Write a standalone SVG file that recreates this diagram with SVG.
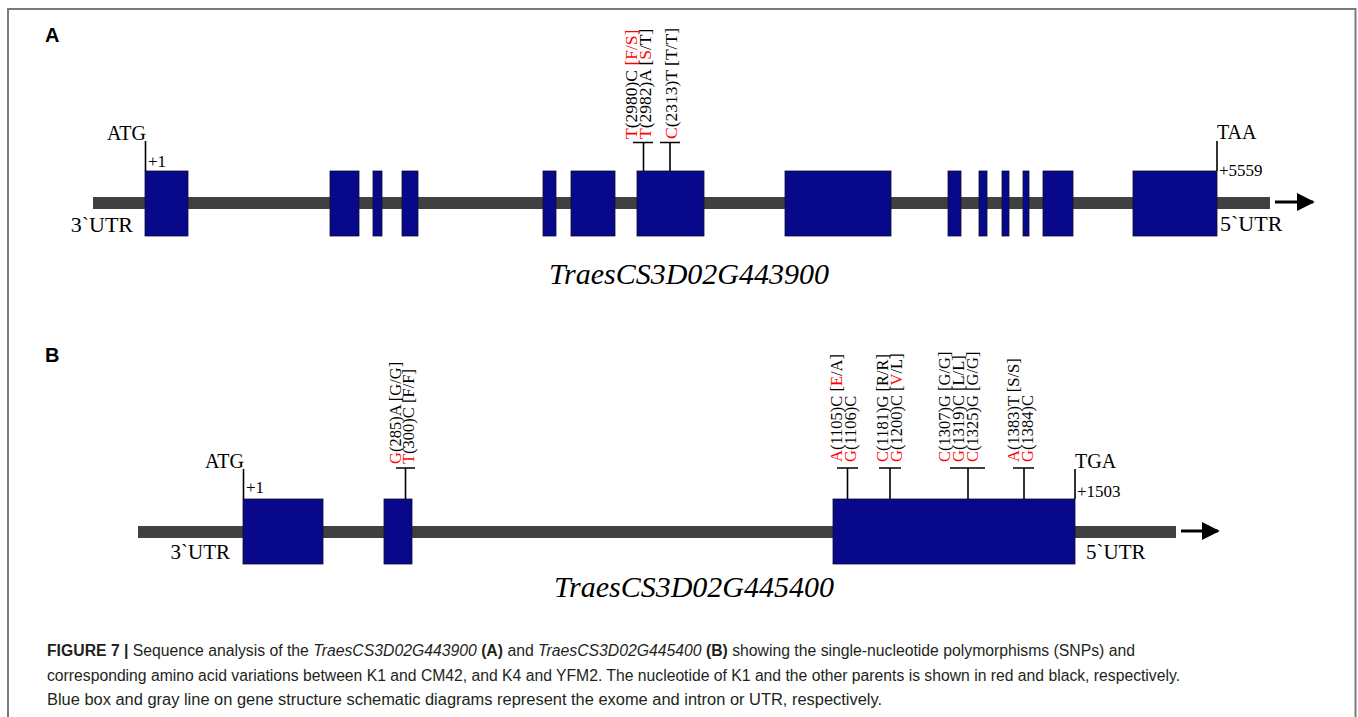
<svg xmlns="http://www.w3.org/2000/svg" width="1358" height="717" viewBox="0 0 1358 717">
<style>
.frame{fill:none;stroke:#7a7a7a;stroke-width:2}
.intron{fill:#404040}
.exon{fill:#08088a;stroke:#101030;stroke-width:0.8}
.tick{fill:none;stroke:#000;stroke-width:1.6}
.t{font-family:"Liberation Serif","Times New Roman",serif;fill:#000}
.lbl{font-size:20px}
.utrA{font-size:22px}
.utrB{font-size:21px}
.pos{font-size:17px}
.snpA{font-size:17.5px}
.snpB{font-size:16.5px}
.r{fill:#ff0000}
.gene{font-family:"Liberation Serif","Times New Roman",serif;font-style:italic;font-size:30px;fill:#000;text-anchor:middle}
.panel{font-family:"Liberation Sans",Arial,sans-serif;font-weight:bold;font-size:20px;fill:#000}
.cap{font-family:"Liberation Sans",Arial,sans-serif;font-size:16px;fill:#231f20}
</style>
<defs>
<marker id="ah" viewBox="0 0 10 10" refX="9" refY="5" markerWidth="6" markerHeight="6.6" orient="auto" markerUnits="strokeWidth">
<path d="M0,0 L10,5 L0,10 z" fill="#000"/>
</marker>
</defs>
<rect width="1358" height="717" fill="#fff"/>
<path class="frame" d="M8,717 L8,9 L1355.5,9 L1355.5,717"/>

<g id="panelA">
<text class="panel" x="45" y="42">A</text>
<g id="geneA-line">
<rect class="intron" x="93" y="197" width="1177" height="12"/>
</g>
<g id="geneA-exons">
<rect class="exon" x="145" y="171" width="43" height="65"/>
<rect class="exon" x="330" y="171" width="29" height="65"/>
<rect class="exon" x="373" y="171" width="9" height="65"/>
<rect class="exon" x="402" y="171" width="16" height="65"/>
<rect class="exon" x="543" y="171" width="13" height="65"/>
<rect class="exon" x="571" y="171" width="44" height="65"/>
<rect class="exon" x="637" y="171" width="67" height="65"/>
<rect class="exon" x="785" y="171" width="106" height="65"/>
<rect class="exon" x="948" y="171" width="13" height="65"/>
<rect class="exon" x="979" y="171" width="8" height="65"/>
<rect class="exon" x="1002" y="171" width="7" height="65"/>
<rect class="exon" x="1023" y="171" width="6" height="65"/>
<rect class="exon" x="1043" y="171" width="30" height="65"/>
<rect class="exon" x="1133" y="171" width="84" height="65"/>
</g>
<g id="geneA-connectors">
<path class="tick" d="M145.5,141 V171"/>
<path class="tick" d="M1217,141 V171"/>
<path class="tick" d="M633,142.5 H653 M643.5,142.5 V171"/>
<path class="tick" d="M660,142.5 H680 M670,142.5 V171"/>
<line x1="1275" y1="202" x2="1313" y2="202" stroke="#000" stroke-width="3" marker-end="url(#ah)"/>
</g>
<g id="geneA-labels">
<text class="t lbl" x="146" y="140" text-anchor="end">ATG</text>
<text class="t pos" x="148" y="167">+1</text>
<text class="t utrA" x="133" y="232" text-anchor="end">3`UTR</text>
<text class="t lbl" x="1217" y="139">TAA</text>
<text class="t pos" x="1219" y="176">+5559</text>
<text class="t utrA" x="1220" y="231">5`UTR</text>
<text class="t snpA" transform="translate(637,139) rotate(-90)"><tspan class="r">T</tspan>(2980)C <tspan class="r">[F/S]</tspan></text>
<text class="t snpA" transform="translate(651,139) rotate(-90)"><tspan class="r">T</tspan>(2982)A [<tspan class="r">S</tspan>/T]</text>
<text class="t snpA" transform="translate(677,139) rotate(-90)"><tspan class="r">C</tspan>(2313)T [T/T]</text>
<text class="gene" x="689" y="284">TraesCS3D02G443900</text>
</g>
</g>

<g id="panelB">
<text class="panel" x="45" y="362">B</text>
<g id="geneB-line">
<rect class="intron" x="138" y="526" width="1038" height="12"/>
</g>
<g id="geneB-exons">
<rect class="exon" x="243" y="499" width="80" height="65"/>
<rect class="exon" x="384" y="499" width="28" height="65"/>
<rect class="exon" x="833" y="499" width="242" height="65"/>
</g>
<g id="geneB-connectors">
<path class="tick" d="M243.5,469 V499"/>
<path class="tick" d="M1075,469 V499"/>
<path class="tick" d="M396,468 H415 M405.5,468 V499"/>
<path class="tick" d="M837,468 H858 M847.5,468 V499"/>
<path class="tick" d="M879,468 H901 M890,468 V499"/>
<path class="tick" d="M950,468 H985 M968,468 V499"/>
<path class="tick" d="M1013,468 H1034 M1024,468 V499"/>
<line x1="1181" y1="531" x2="1218" y2="531" stroke="#000" stroke-width="3" marker-end="url(#ah)"/>
</g>
<g id="geneB-labels">
<text class="t lbl" x="244" y="468" text-anchor="end">ATG</text>
<text class="t pos" x="246" y="493">+1</text>
<text class="t utrB" x="230" y="559" text-anchor="end">3`UTR</text>
<text class="t lbl" x="1075" y="468">TGA</text>
<text class="t pos" x="1077" y="497">+1503</text>
<text class="t utrB" x="1086" y="559">5`UTR</text>
<text class="t snpB" transform="translate(401,464) rotate(-90)"><tspan class="r">G</tspan>(285)A [G/G]</text>
<text class="t snpB" transform="translate(414,464) rotate(-90)"><tspan class="r">T</tspan>(300)C [F/F]</text>
<text class="t snpB" transform="translate(842,462) rotate(-90)"><tspan class="r">A</tspan>(1105)C [<tspan class="r">E</tspan>/A]</text>
<text class="t snpB" transform="translate(856,462) rotate(-90)"><tspan class="r">G</tspan>(1106)C</text>
<text class="t snpB" transform="translate(888,462) rotate(-90)"><tspan class="r">C</tspan>(1181)G [R/R]</text>
<text class="t snpB" transform="translate(902,462) rotate(-90)"><tspan class="r">G</tspan>(1200)C [<tspan class="r">V</tspan>/L]</text>
<text class="t snpB" transform="translate(950,462) rotate(-90)"><tspan class="r">C</tspan>(1307)G [G/G]</text>
<text class="t snpB" transform="translate(964,462) rotate(-90)"><tspan class="r">G</tspan>(1319)C [L/L]</text>
<text class="t snpB" transform="translate(978,462) rotate(-90)"><tspan class="r">C</tspan>(1325)G [G/G]</text>
<text class="t snpB" transform="translate(1019,462) rotate(-90)"><tspan class="r">A</tspan>(1383)T [S/S]</text>
<text class="t snpB" transform="translate(1033,462) rotate(-90)"><tspan class="r">G</tspan>(1384)C</text>
<text class="gene" x="694" y="597">TraesCS3D02G445400</text>
</g>
</g>

<g id="caption">
<text class="cap" x="47" y="656" textLength="1088" lengthAdjust="spacingAndGlyphs"><tspan font-weight="bold">FIGURE 7 |</tspan> Sequence analysis of the <tspan font-style="italic">TraesCS3D02G443900</tspan> <tspan font-weight="bold">(A)</tspan> and <tspan font-style="italic">TraesCS3D02G445400</tspan> <tspan font-weight="bold">(B)</tspan> showing the single-nucleotide polymorphisms (SNPs) and</text>
<text class="cap" x="47" y="681" textLength="1133" lengthAdjust="spacingAndGlyphs">corresponding amino acid variations between K1 and CM42, and K4 and YFM2. The nucleotide of K1 and the other parents is shown in red and black, respectively.</text>
<text class="cap" x="47" y="705" textLength="835" lengthAdjust="spacingAndGlyphs">Blue box and gray line on gene structure schematic diagrams represent the exome and intron or UTR, respectively.</text>
</g>
</svg>
